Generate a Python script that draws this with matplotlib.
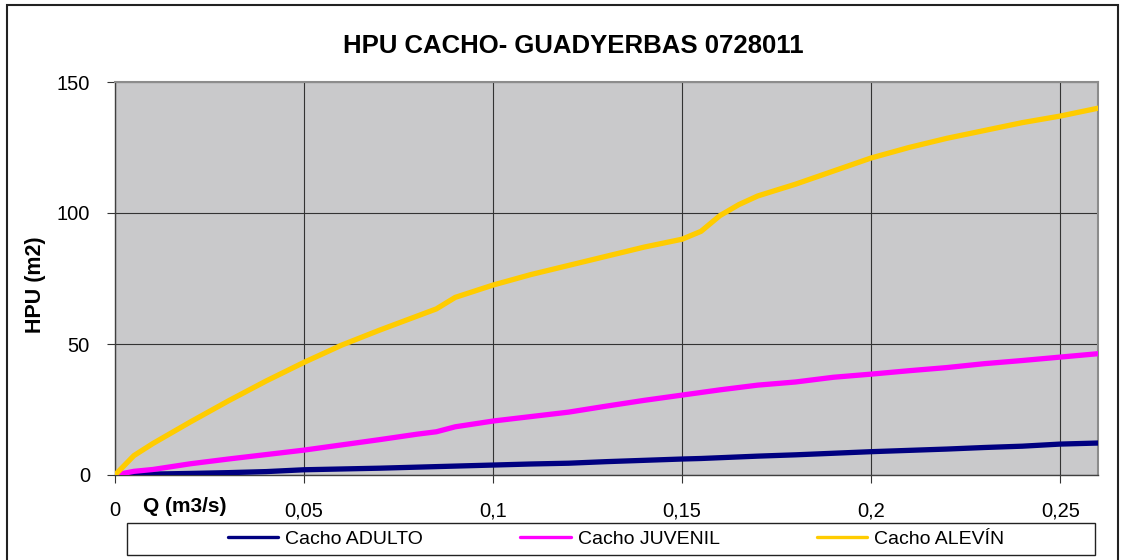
import matplotlib
matplotlib.use("Agg")
import matplotlib.pyplot as plt
from matplotlib.patches import Rectangle

plt.rcParams['font.family'] = ['Liberation Sans', 'DejaVu Sans']

# caudal (m3/s) y HPU (m2) por estadio
q = [0, 0.005, 0.01, 0.02, 0.03, 0.04, 0.05, 0.06, 0.07, 0.08, 0.085, 0.09,
     0.10, 0.11, 0.12, 0.13, 0.14, 0.15, 0.155, 0.16, 0.165, 0.17, 0.18,
     0.19, 0.20, 0.21, 0.22, 0.23, 0.24, 0.25, 0.26]
adulto = [0, 0.2, 0.35, 0.6, 0.9, 1.3, 2.0, 2.3, 2.6, 3.0, 3.2, 3.4,
          3.8, 4.2, 4.5, 5.1, 5.6, 6.1, 6.3, 6.6, 6.9, 7.2, 7.7,
          8.3, 8.9, 9.4, 9.9, 10.5, 11.0, 11.8, 12.2]
juvenil = [0, 1.4, 2.1, 4.3, 6.1, 7.8, 9.5, 11.5, 13.5, 15.6, 16.5, 18.4,
           20.6, 22.3, 24.0, 26.3, 28.5, 30.5, 31.5, 32.5, 33.4, 34.3, 35.5,
           37.3, 38.5, 39.8, 41.0, 42.5, 43.7, 45.0, 46.3]
alevin = [0, 7.4, 12.0, 20.3, 28.3, 35.9, 43.0, 49.6, 55.3, 60.7, 63.4, 67.8,
          72.5, 76.5, 80.0, 83.5, 87.0, 90.0, 93.0, 99.0, 103.2, 106.5, 111.0,
          116.0, 121.0, 125.0, 128.5, 131.5, 134.5, 137.0, 140.0]

series_names = ["Cacho ADULTO", "Cacho JUVENIL", "Cacho ALEVÍN"]
series_colors = ["#000080", "#FF00FF", "#FFCC00"]

x_ticks = [0, 0.05, 0.1, 0.15, 0.2, 0.25]
x_ticklabels = ["0", "0,05", "0,1", "0,15", "0,2", "0,25"]
y_ticks = [0, 50, 100, 150]

W, H = 1126, 560
fig = plt.figure(figsize=(W / 100, H / 100), dpi=100)
ax = fig.add_axes([115 / W, 1 - 475 / H, (1098 - 115) / W, (475 - 82) / H])
ax.set_facecolor("#C9C9CB")

for ys, name, col in zip([adulto, juvenil, alevin], series_names, series_colors):
    ax.plot(q, ys, color=col, lw=3.8, label=name, solid_capstyle="round",
            solid_joinstyle="round", zorder=3)

ax.set_xlim(0, 0.26)
ax.set_ylim(0, 150)
ax.set_xticks(x_ticks)
ax.set_xticklabels(x_ticklabels)
ax.set_yticks(y_ticks)
ax.grid(True, color="#333333", lw=0.8)
ax.tick_params(axis="both", labelsize=14.5, length=6, width=0.8, color="#333333")
ax.tick_params(axis="x", pad=13)
ax.tick_params(axis="y", pad=12)

for side in ["top", "right"]:
    ax.spines[side].set_color("#8C8C8C")
    ax.spines[side].set_linewidth(1.5)
for side in ["left", "bottom"]:
    ax.spines[side].set_color("#404040")
    ax.spines[side].set_linewidth(1.0)

fig.text(573 / W, 1 - 46 / H, "HPU CACHO- GUADYERBAS 0728011", ha="center",
         va="center", fontsize=18.5, fontweight="bold")
fig.text(35 / W, 1 - 285 / H, "HPU (m2)", rotation=90, ha="center",
         va="center", fontsize=15.5, fontweight="bold")
fig.text(143 / W, 1 - 507 / H, "Q (m3/s)", ha="left", va="center",
         fontsize=15, fontweight="bold")

# marco exterior del gráfico y caja de la leyenda
fig.patches.append(Rectangle((7 / W, -0.05), (1118 - 7) / W, 1.05 - 5 / H,
                             transform=fig.transFigure, fill=False,
                             edgecolor="#222222", lw=1.5))
fig.patches.append(Rectangle((127 / W, 1 - 555 / H), (1095 - 127) / W, 32 / H,
                             transform=fig.transFigure, fill=False,
                             edgecolor="#222222", lw=1.0))

handles, labels = ax.get_legend_handles_labels()
leg = fig.legend(handles, labels, loc="center", ncol=3, frameon=False,
                 bbox_to_anchor=(616 / W, 1 - 539 / H), fontsize=14,
                 handlelength=2.6, handletextpad=0.35, columnspacing=5.0)
for line in leg.get_lines():
    line.set_linewidth(2.4)

fig.savefig("out.png", dpi=100)
